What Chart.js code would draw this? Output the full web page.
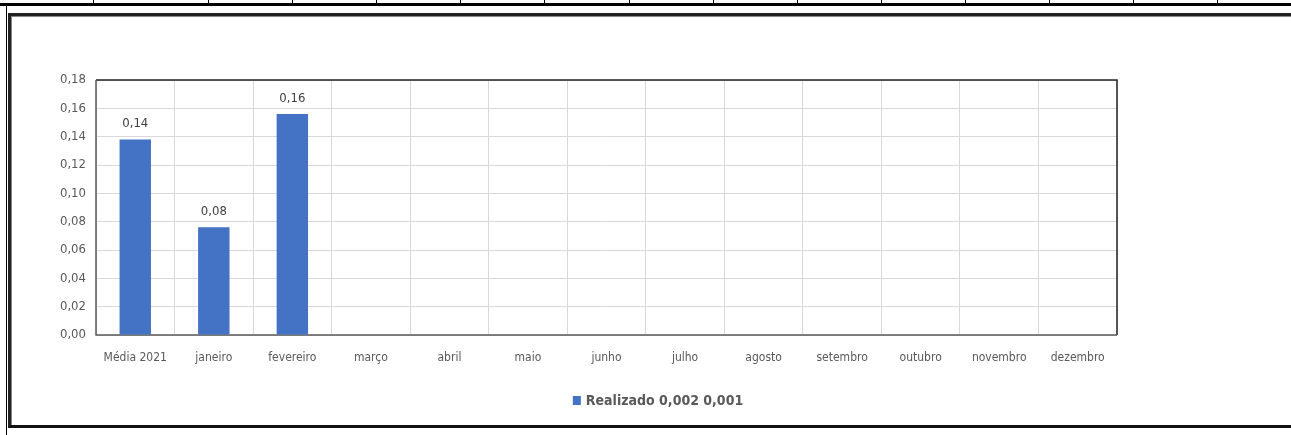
<!DOCTYPE html>
<html>
<head>
<meta charset="utf-8">
<script src="https://cdn.jsdelivr.net/npm/chart.js@4/dist/chart.umd.min.js"></script>
<style>
  html, body { margin: 0; padding: 0; background: #fff; }
  #sheet { position: relative; width: 1291px; height: 435px; overflow: hidden; background: #fff; }
  /* spreadsheet row above the chart */
  .hrow { position: absolute; left: 0; top: 3px; width: 1291px; height: 3px; background: #000; }
  .vcell { position: absolute; top: 0; width: 1px; height: 4px; background: #000; }
  .vleft { position: absolute; left: 6px; top: 5px; width: 1px; height: 430px; background: #000; }
  /* chart object frame */
  .frame { position: absolute; left: 8px; top: 13px; width: 1300px; height: 415px;
           border-top: 3px solid #222; border-left: 3px solid #222; border-bottom: 3px solid #111;
           box-shadow: inset 1px 1px 0 #888; box-sizing: border-box; }
  #wrap { position: absolute; left: 0; top: 0; width: 1291px; height: 435px; }
</style>
</head>
<body>
<div id="sheet">
  <div class="hrow"></div>
  <div class="vleft"></div>
  <div class="frame"></div>
  <div id="wrap"><canvas id="chart"></canvas></div>
</div>
<script>
// column separators of the sheet row
const cellEdges = [93, 208, 292, 376, 460, 544, 629, 713, 797, 881, 965, 1049, 1133, 1217];
cellEdges.forEach(x => {
    const d = document.createElement('div');
    d.className = 'vcell';
    d.style.left = x + 'px';
    document.getElementById('sheet').appendChild(d);
});

const categories = ['Média 2021', 'janeiro', 'fevereiro', 'março', 'abril', 'maio', 'junho',
                    'julho', 'agosto', 'setembro', 'outubro', 'novembro', 'dezembro'];
const realizado = [0.138, 0.076, 0.156, null, null, null, null, null, null, null, null, null, null];
const seriesName = 'Realizado 0,002 0,001';
const yTicks = [0, 0.02, 0.04, 0.06, 0.08, 0.10, 0.12, 0.14, 0.16, 0.18];

const fontFamily = "'Liberation Sans Narrow', 'DejaVu Sans Condensed', 'Roboto', sans-serif";
const textColor = '#595959';
const barColor = '#4472c4';

function fmt(v) {
    return v.toFixed(2).replace('.', ',');
}

// box round the plot area, value labels and the legend line under the axis
const decorations = {
    id: 'decorations',
    beforeDatasetsDraw(chart) {
        const a = chart.chartArea;
        const ctx = chart.ctx;
        ctx.save();
        ctx.lineWidth = 1.5;
        ctx.strokeStyle = '#222';
        ctx.beginPath();
        ctx.moveTo(a.left, a.top);
        ctx.lineTo(a.right, a.top);
        ctx.lineTo(a.right, a.bottom);
        ctx.stroke();
        ctx.strokeStyle = '#595959';
        ctx.beginPath();
        ctx.moveTo(a.left, a.top);
        ctx.lineTo(a.left, a.bottom);
        ctx.lineTo(a.right, a.bottom);
        ctx.stroke();
        ctx.restore();
    },
    afterDatasetsDraw(chart) {
        const ctx = chart.ctx;
        ctx.save();
        ctx.font = '13px ' + fontFamily;
        ctx.fillStyle = '#404040';
        ctx.textAlign = 'center';
        ctx.textBaseline = 'bottom';
        chart.getDatasetMeta(0).data.forEach((bar, i) => {
            const v = realizado[i];
            if (v === null) return;
            ctx.fillText(fmt(v), bar.x, bar.y - 9);
        });

        // legend
        ctx.font = 'bold 14px ' + fontFamily;
        const label = chart.data.datasets[0].label;
        const tw = ctx.measureText(label).width;
        const total = 8 + 5 + tw;
        const cx = 658, cy = 400;
        const x0 = cx - total / 2;
        ctx.fillStyle = barColor;
        ctx.fillRect(x0, cy - 4, 8, 9);
        ctx.fillStyle = textColor;
        ctx.textAlign = 'left';
        ctx.textBaseline = 'middle';
        ctx.fillText(label, x0 + 13, cy + 1);
        ctx.restore();
    }
};

new Chart(document.getElementById('chart'), {
    type: 'bar',
    data: {
        labels: categories,
        datasets: [{
            label: seriesName,
            data: realizado,
            backgroundColor: barColor,
            categoryPercentage: 1,
            barPercentage: 0.4
        }]
    },
    options: {
        responsive: true,
        maintainAspectRatio: false,
        animation: false,
        devicePixelRatio: 1,
        layout: { padding: { left: 56, right: 174, top: 80, bottom: 62 } },
        plugins: {
            legend: { display: false },
            tooltip: { enabled: false }
        },
        scales: {
            x: {
                grid: { color: '#d9d9d9', offset: true, drawTicks: false },
                border: { display: false },
                ticks: {
                    color: textColor,
                    font: { family: fontFamily, size: 12 },
                    padding: 16,
                    maxRotation: 0,
                    autoSkip: false
                },
                afterFit(scale) { scale.height = 38; }
            },
            y: {
                min: 0,
                max: 0.18,
                afterBuildTicks(scale) {
                    scale.ticks = yTicks.map(v => ({ value: v }));
                },
                afterFit(scale) { scale.width = 40; },
                grid: { color: '#d9d9d9', drawTicks: false },
                border: { display: false },
                ticks: {
                    color: textColor,
                    font: { family: fontFamily, size: 13 },
                    padding: 10,
                    callback: v => fmt(v)
                }
            }
        }
    },
    plugins: [decorations]
});
</script>
</body>
</html>
